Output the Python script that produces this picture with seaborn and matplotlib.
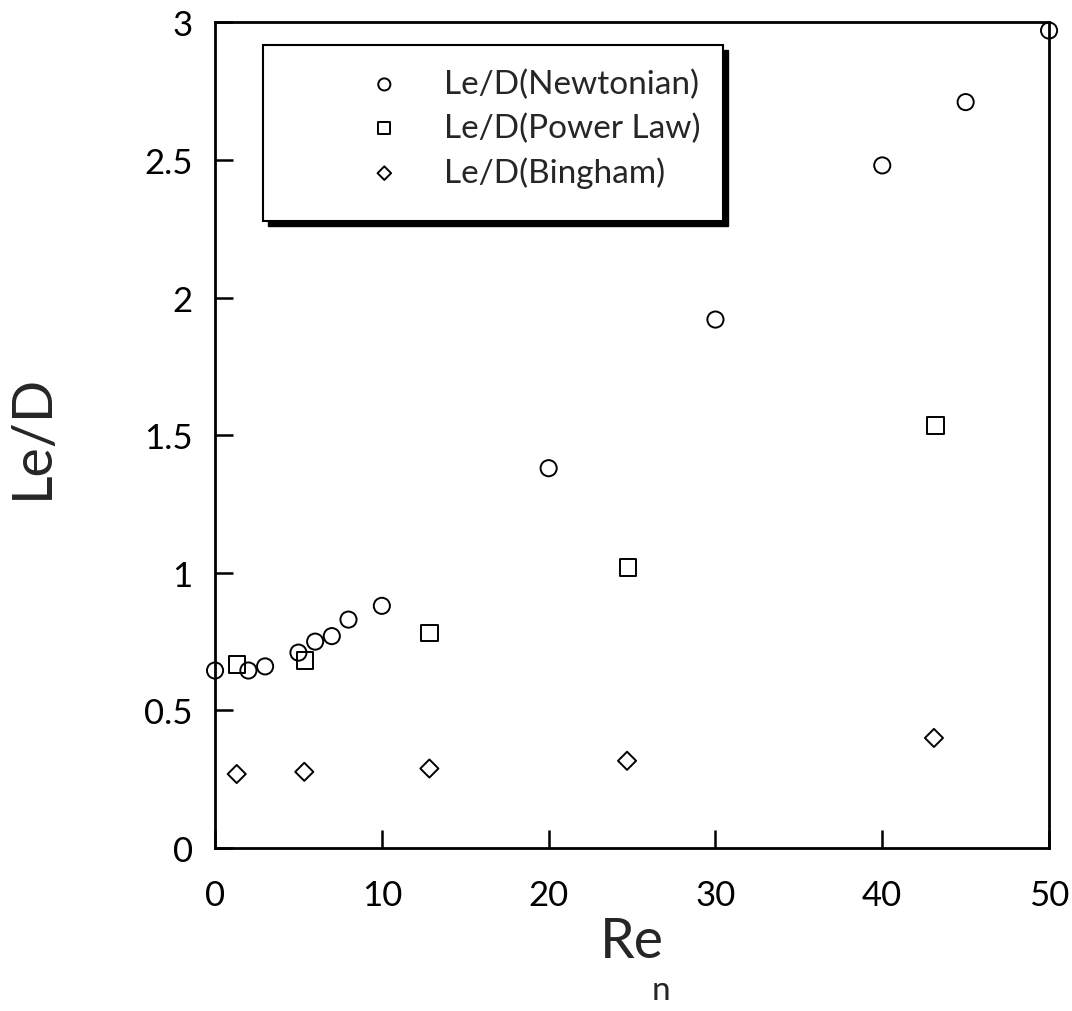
import numpy as np
import matplotlib
matplotlib.use("Agg")
import matplotlib.pyplot as plt
from matplotlib.patches import Rectangle
import seaborn as sns

# Newtonian
re_newt = [0, 2, 3, 5, 6, 7, 8, 10, 20, 30, 40, 45, 50]
led_newt = [0.645, 0.645, 0.66, 0.71, 0.75, 0.77, 0.83, 0.88, 1.38, 1.92, 2.48, 2.71, 2.97]

# Power law
re_pow = [1.3, 5.4, 12.85, 24.75, 43.2]
led_pow = [0.667, 0.682, 0.781, 1.02, 1.535]

# Bingham
re_bing = [1.3, 5.35, 12.85, 24.7, 43.1]
led_bing = [0.269, 0.277, 0.289, 0.317, 0.40]

labels = ["Le/D(Newtonian)", "Le/D(Power Law)", "Le/D(Bingham)"]

sns.set_theme(style="ticks")
plt.rcParams['font.family'] = ['Lato', 'DejaVu Sans']

fig = plt.figure(figsize=(10.72, 10.12), dpi=100)
ax = fig.add_axes([0.2006, 0.161, 0.778, 0.816])

mk = dict(facecolor='none', edgecolor='black', linewidth=1.4, ax=ax, zorder=5, clip_on=False)
sns.scatterplot(x=re_newt, y=led_newt, marker='o', s=135, label=labels[0], **mk)
sns.scatterplot(x=re_pow, y=led_pow, marker='s', s=140, label=labels[1], **mk)
sns.scatterplot(x=re_bing, y=led_bing, marker='D', s=85, label=labels[2], **mk)

ax.set_xlim(0, 50)
ax.set_ylim(0, 3)
ax.set_xticks([0, 10, 20, 30, 40, 50])
ax.set_yticks([0, 0.5, 1, 1.5, 2, 2.5, 3])
ax.set_yticklabels(['0', '0.5', '1', '1.5', '2', '2.5', '3'])
ax.tick_params(direction='in', length=13, width=1.8, labelsize=25, colors='black')
ax.tick_params(axis='x', pad=22)
ax.tick_params(axis='y', pad=16)
for sp in ax.spines.values():
    sp.set_linewidth(2)
    sp.set_color('black')

ax.set_ylabel('Le/D', fontsize=40, labelpad=62)
ax.set_xlabel('Re', fontsize=40, labelpad=4)
fig.text(0.617, 0.012, 'n', fontsize=24, ha='center', va='baseline')

# legend box with shadow, drawn by hand
x0, y0, w, h = 0.0576, 0.759, 0.552, 0.214
off_x, off_y = 5 / 834, 5 / 826
ax.add_patch(Rectangle((x0 + off_x, y0 - off_y), w, h, transform=ax.transAxes,
                       facecolor='black', edgecolor='black', zorder=6))
ax.add_patch(Rectangle((x0, y0), w, h, transform=ax.transAxes,
                       facecolor='white', edgecolor='black', linewidth=1.5, zorder=7))
leg = ax.legend(loc='upper left', bbox_to_anchor=(0.163, 0.972), frameon=False,
                fontsize=24, handlelength=0.6, handletextpad=1.5, labelspacing=0.4,
                markerscale=0.75, borderpad=0.2)
leg.set_zorder(8)
for hnd in leg.legend_handles:
    hnd.set_facecolor('none')
    hnd.set_edgecolor('black')

fig.savefig('out.png', dpi=100, facecolor='white')
